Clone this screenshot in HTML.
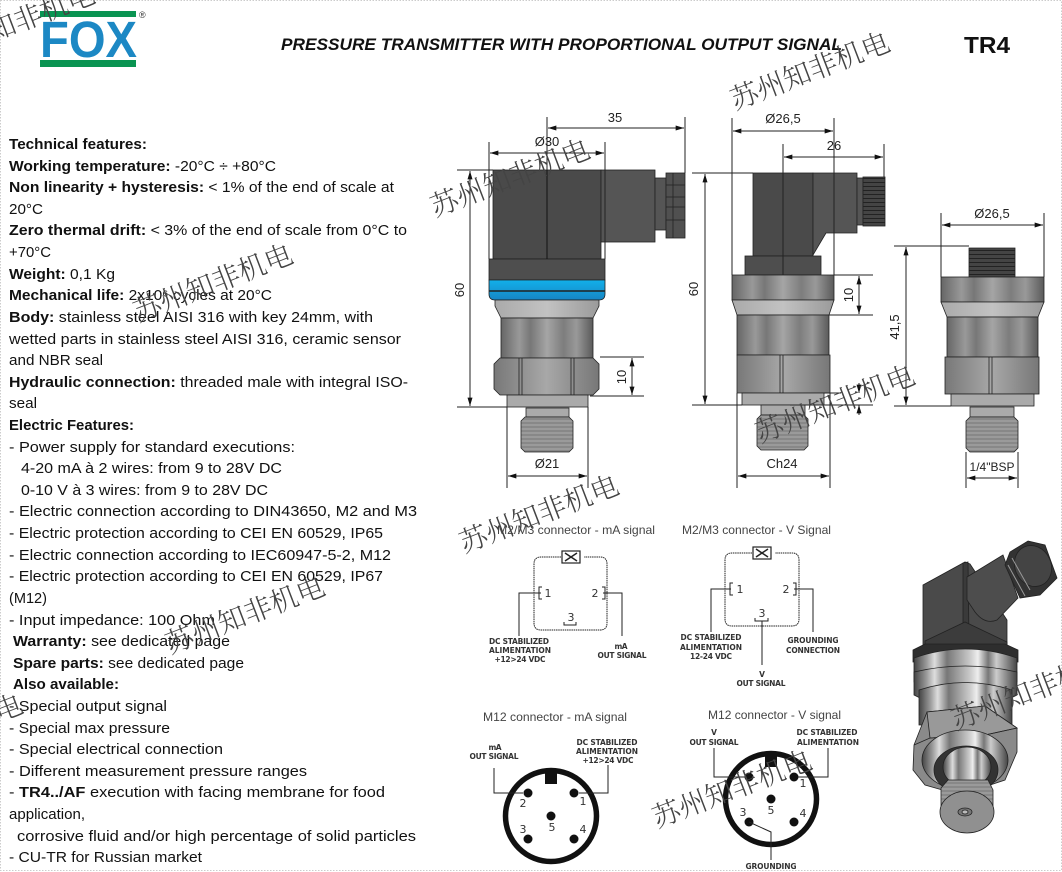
<!DOCTYPE html>
<html><head><meta charset="utf-8"><style>
html,body{margin:0;padding:0;background:#fff;width:1062px;height:872px;overflow:hidden}
svg{display:block}
.t text{font-family:"Liberation Sans",sans-serif;font-size:15px;fill:#111}
.t .b{font-weight:bold}
.d{font-family:"Liberation Sans",sans-serif;font-size:13px;fill:#222}
.h{font-family:"Liberation Sans",sans-serif;font-size:12px;fill:#444}
.l{font-family:"DejaVu Sans",sans-serif;font-size:7.5px;font-weight:bold;fill:#333}
.n{font-family:"DejaVu Sans",sans-serif;font-size:11px;fill:#333}
.w{font-family:"Noto Serif CJK SC","Noto Sans CJK SC",serif;font-size:28px;font-weight:300;fill:#444}
.k{stroke:#222;stroke-width:1;fill:none}
.o{stroke:#222;stroke-width:.8}
</style></head><body>
<svg width="1062" height="872" viewBox="0 0 1062 872" xmlns="http://www.w3.org/2000/svg">
<defs>
<linearGradient id="m"><stop offset="0" stop-color="#666"/><stop offset=".2" stop-color="#999"/><stop offset=".32" stop-color="#777"/><stop offset=".5" stop-color="#a5a5a5"/><stop offset=".68" stop-color="#7d7d7d"/><stop offset=".82" stop-color="#999"/><stop offset="1" stop-color="#5a5a5a"/></linearGradient>
<linearGradient id="c"><stop offset="0" stop-color="#aaa"/><stop offset=".5" stop-color="#c2c2c2"/><stop offset="1" stop-color="#9a9a9a"/></linearGradient>
<linearGradient id="h"><stop offset="0" stop-color="#787878"/><stop offset=".5" stop-color="#a8a8a8"/><stop offset="1" stop-color="#777"/></linearGradient>
<linearGradient id="bl" x1="0" y1="0" x2="0" y2="1"><stop offset="0" stop-color="#12b0ea"/><stop offset="1" stop-color="#1685c4"/></linearGradient>
<linearGradient id="ch"><stop offset="0" stop-color="#444"/><stop offset=".12" stop-color="#999"/><stop offset=".2" stop-color="#ddd"/><stop offset=".32" stop-color="#777"/><stop offset=".55" stop-color="#ccc"/><stop offset=".62" stop-color="#eee"/><stop offset=".72" stop-color="#777"/><stop offset=".8" stop-color="#ccc"/><stop offset="1" stop-color="#444"/></linearGradient>
<pattern id="th" width="4" height="4" patternUnits="userSpaceOnUse"><rect width="4" height="4" fill="#9a9a9a"/><rect y="2.5" width="4" height="1" fill="#777"/></pattern>
<pattern id="th2" width="4" height="4" patternUnits="userSpaceOnUse"><rect width="4" height="4" fill="#444"/><rect y="2" width="4" height="1" fill="#222"/></pattern>
<marker id="a" viewBox="0 0 10 6" refX="10" refY="3" markerWidth="10" markerHeight="5" orient="auto-start-reverse" markerUnits="userSpaceOnUse"><path d="M0 0L10 3L0 6z" fill="#111"/></marker>
</defs>

<rect x=".5" y=".5" width="1061" height="870" fill="none" stroke="#ccc" stroke-dasharray="1.5 1.5"/>

<!-- Logo -->
<rect x="40" y="11" width="96" height="6" fill="#0a9452"/>
<rect x="40" y="60" width="96" height="7" fill="#0a9452"/>
<text x="40" y="57" font-family="Liberation Sans,sans-serif" font-weight="bold" font-size="51" fill="#1c88c4" textLength="97" lengthAdjust="spacingAndGlyphs">FOX</text>
<text x="139" y="18" font-family="Liberation Sans,sans-serif" font-size="9" fill="#333">®</text>

<text x="281" y="50" font-family="Liberation Sans,sans-serif" font-size="17" font-weight="bold" font-style="italic" fill="#111" textLength="561" lengthAdjust="spacingAndGlyphs">PRESSURE TRANSMITTER WITH PROPORTIONAL OUTPUT SIGNAL</text>
<text x="964" y="53" font-family="Liberation Sans,sans-serif" font-size="23" font-weight="bold" fill="#111" textLength="46" lengthAdjust="spacingAndGlyphs">TR4</text>

<!-- Left text -->
<g class="t">
<text x="9" y="149" class="b" textLength="138" lengthAdjust="spacingAndGlyphs">Technical features:</text>
<text x="9" y="171" textLength="267" lengthAdjust="spacingAndGlyphs"><tspan class="b">Working temperature:</tspan> -20°C ÷ +80°C</text>
<text x="9" y="192" textLength="385" lengthAdjust="spacingAndGlyphs"><tspan class="b">Non linearity + hysteresis:</tspan> &lt; 1% of the end of scale at</text>
<text x="9" y="214" textLength="34" lengthAdjust="spacingAndGlyphs">20°C</text>
<text x="9" y="235" textLength="398" lengthAdjust="spacingAndGlyphs"><tspan class="b">Zero thermal drift:</tspan> &lt; 3% of the end of scale from 0°C to</text>
<text x="9" y="257" textLength="42" lengthAdjust="spacingAndGlyphs">+70°C</text>
<text x="9" y="279" textLength="106" lengthAdjust="spacingAndGlyphs"><tspan class="b">Weight:</tspan> 0,1 Kg</text>
<text x="9" y="300" textLength="263" lengthAdjust="spacingAndGlyphs"><tspan class="b">Mechanical life:</tspan> 2x10⁶ cycles at 20°C</text>
<text x="9" y="322" textLength="364" lengthAdjust="spacingAndGlyphs"><tspan class="b">Body:</tspan> stainless steel AISI 316 with key 24mm, with</text>
<text x="9" y="344" textLength="392" lengthAdjust="spacingAndGlyphs">wetted parts in stainless steel AISI 316, ceramic sensor</text>
<text x="9" y="365" textLength="94" lengthAdjust="spacingAndGlyphs">and NBR seal</text>
<text x="9" y="387" textLength="399" lengthAdjust="spacingAndGlyphs"><tspan class="b">Hydraulic connection:</tspan> threaded male with integral ISO-</text>
<text x="9" y="408" textLength="28" lengthAdjust="spacingAndGlyphs">seal</text>
<text x="9" y="430" class="b" textLength="125" lengthAdjust="spacingAndGlyphs">Electric Features:</text>
<text x="9" y="452" textLength="286" lengthAdjust="spacingAndGlyphs">- Power supply for standard executions:</text>
<text x="21" y="473" textLength="261" lengthAdjust="spacingAndGlyphs">4-20 mA à 2 wires: from 9 to 28V DC</text>
<text x="21" y="495" textLength="247" lengthAdjust="spacingAndGlyphs">0-10 V à 3 wires: from 9 to 28V DC</text>
<text x="9" y="516" textLength="408" lengthAdjust="spacingAndGlyphs">- Electric connection according to DIN43650, M2 and M3</text>
<text x="9" y="538" textLength="374" lengthAdjust="spacingAndGlyphs">- Electric protection according to CEI EN 60529, IP65</text>
<text x="9" y="560" textLength="382" lengthAdjust="spacingAndGlyphs">- Electric connection according to IEC60947-5-2, M12</text>
<text x="9" y="581" textLength="374" lengthAdjust="spacingAndGlyphs">- Electric protection according to CEI EN 60529, IP67</text>
<text x="9" y="603" textLength="38" lengthAdjust="spacingAndGlyphs">(M12)</text>
<text x="9" y="625" textLength="206" lengthAdjust="spacingAndGlyphs">- Input impedance: 100 Ohm</text>
<text x="13" y="646" textLength="217" lengthAdjust="spacingAndGlyphs"><tspan class="b">Warranty:</tspan> see dedicated page</text>
<text x="13" y="668" textLength="231" lengthAdjust="spacingAndGlyphs"><tspan class="b">Spare parts:</tspan> see dedicated page</text>
<text x="13" y="689" class="b" textLength="106" lengthAdjust="spacingAndGlyphs">Also available:</text>
<text x="9" y="711" textLength="158" lengthAdjust="spacingAndGlyphs">- Special output signal</text>
<text x="9" y="733" textLength="161" lengthAdjust="spacingAndGlyphs">- Special max pressure</text>
<text x="9" y="754" textLength="214" lengthAdjust="spacingAndGlyphs">- Special electrical connection</text>
<text x="9" y="776" textLength="298" lengthAdjust="spacingAndGlyphs">- Different measurement pressure ranges</text>
<text x="9" y="797" textLength="376" lengthAdjust="spacingAndGlyphs">- <tspan class="b">TR4../AF</tspan> execution with facing membrane for food</text>
<text x="9" y="819" textLength="76" lengthAdjust="spacingAndGlyphs">application,</text>
<text x="17" y="841" textLength="399" lengthAdjust="spacingAndGlyphs">corrosive fluid and/or high percentage of solid particles</text>
<text x="9" y="862" textLength="193" lengthAdjust="spacingAndGlyphs">- CU-TR for Russian market</text>
</g>

<!-- Left sensor -->
<g class="o">
<rect x="493" y="170" width="108" height="89" fill="#4a4a4a"/>
<rect x="601" y="170" width="54" height="72" fill="#555"/>
<rect x="655" y="178" width="11" height="52" fill="#555"/>
<rect x="666" y="173" width="19" height="65" fill="#505050"/>
<path d="M666 185H685M666 197H685M666 207H685M666 220H685M673 173V238" fill="none"/>
<rect x="489" y="259" width="116" height="21" fill="#4e4e4e"/>
<path d="M489 280H605V294Q605 300 599 300H495Q489 300 489 294Z" fill="url(#bl)"/>
<path d="M489 291H605" stroke-width="1.5"/>
<path d="M495 300H599V306L593 318H501L495 306Z" fill="url(#c)"/>
<rect x="501" y="318" width="92" height="40" fill="url(#m)"/>
<path d="M494 364L500 358H593L599 364V389L593 395H500L494 389Z" fill="url(#h)"/>
<path d="M519 358V395M522 358V395M571 358V395M574 358V395" fill="none"/>
<rect x="507" y="395" width="81" height="12" fill="#aaa"/>
<rect x="526" y="408" width="43" height="9" fill="#aaa"/>
<path d="M521 421L525 417H569L573 421V448L569 452H525L521 448Z" fill="url(#th)"/>
</g>
<path d="M547 170V259" stroke="#111" fill="none"/>

<!-- Center sensor -->
<g class="o">
<rect x="753" y="173" width="60" height="83" fill="#4a4a4a"/>
<path d="M813 173H857V233H826L813 255Z" fill="#555"/>
<rect x="857" y="178" width="6" height="47" fill="#555"/>
<rect x="863" y="177" width="22" height="49" fill="url(#th2)"/>
<rect x="745" y="256" width="76" height="19" fill="#4e4e4e"/>
<rect x="732" y="275" width="102" height="25" fill="url(#m)"/>
<path d="M732 300H834L829 315H737Z" fill="url(#c)"/>
<rect x="737" y="315" width="92" height="40" fill="url(#m)"/>
<path d="M737 355H830V393H737Z" fill="url(#h)"/>
<path d="M780 355V393M783 355V393" fill="none"/>
<rect x="742" y="393" width="82" height="12" fill="#aaa"/>
<rect x="761" y="405" width="44" height="10" fill="#aaa"/>
<path d="M757 419L761 415H804L808 419V446L804 450H761L757 446Z" fill="url(#th)"/>
</g>

<!-- Right sensor -->
<g class="o">
<path d="M969 248H1015V277H969Z" fill="url(#th2)"/>
<rect x="941" y="277" width="103" height="25" fill="url(#m)"/>
<path d="M941 302H1044L1038 317H947Z" fill="url(#c)"/>
<rect x="947" y="317" width="91" height="40" fill="url(#m)"/>
<rect x="945" y="357" width="94" height="37" fill="url(#h)"/>
<path d="M989 357V394M992 357V394" fill="none"/>
<rect x="951" y="394" width="83" height="12" fill="#aaa"/>
<rect x="970" y="407" width="44" height="10" fill="#aaa"/>
<path d="M966 421L970 417H1014L1018 421V448L1014 452H970L966 448Z" fill="url(#th)"/>
</g>

<!-- Dimensions -->
<g class="k">
<path d="M547 117V170M685 117V173M489 142V259M605 142V259M457 170H493M457 407H507M600 357H644M590 396H644M507 407V488M588 407V488"/>
<path d="M732 118V275M834 118V275M783 144V275M884 144V177M692 173H753M692 405H742M834 275H873M829 315H873M824 393H841M790 405H873M737 393V488M830 393V488"/>
<path d="M941 213V277M1044 213V277M894 246H969M894 406H951M966 452V488M1018 452V488"/>
<g marker-start="url(#a)" marker-end="url(#a)">
<path d="M548 128H684"/><path d="M490 153H604"/><path d="M470 171V406"/><path d="M632 358V395"/><path d="M508 476H587"/>
<path d="M733 131H833"/><path d="M784 157H883"/><path d="M705 174V404"/><path d="M859 276V314"/><path d="M738 476H829"/>
<path d="M942 225H1043"/><path d="M906 247V405"/><path d="M967 478H1017"/>
</g>
<path d="M859 383V393" marker-end="url(#a)"/><path d="M859 415V405" marker-end="url(#a)"/>
</g>
<g class="d" text-anchor="middle">
<text x="615" y="122">35</text>
<text x="547" y="146">Ø30</text>
<text x="547" y="468">Ø21</text>
<text transform="translate(464 290) rotate(-90)">60</text>
<text transform="translate(626 377) rotate(-90)">10</text>
<text x="783" y="123">Ø26,5</text>
<text x="834" y="150">26</text>
<text x="782" y="468">Ch24</text>
<text transform="translate(698 289) rotate(-90)">60</text>
<text transform="translate(853 295) rotate(-90)">10</text>
<text x="992" y="218">Ø26,5</text>
<text x="992" y="471" font-size="12">1/4"BSP</text>
<text transform="translate(899 327) rotate(-90)">41,5</text>
</g>

<!-- Connector headings -->
<text class="h" x="497" y="534" textLength="158" lengthAdjust="spacingAndGlyphs">M2/M3 connector - mA signal</text>
<text class="h" x="682" y="534" textLength="149" lengthAdjust="spacingAndGlyphs">M2/M3 connector - V Signal</text>
<text class="h" x="483" y="721" textLength="144" lengthAdjust="spacingAndGlyphs">M12 connector - mA signal</text>
<text class="h" x="708" y="719" textLength="133" lengthAdjust="spacingAndGlyphs">M12 connector - V signal</text>

<!-- mA box -->
<g fill="none" stroke="#222">
<path d="M561 557H541Q534 557 534 564V623Q534 630 541 630H600Q607 630 607 623V564Q607 557 600 557H584" stroke-dasharray="1.5 .7"/>
<rect x="562" y="551" width="18" height="12" stroke-width="1.2"/><path d="M565 553L577 561M577 553L565 561" stroke-width="1.5"/>
<path d="M519 636V593H541M622 636V593H603"/>
<path d="M542 587H539V599H542M602 587H605V599H602M564 622V625H576V622"/>
</g>
<g class="n" text-anchor="middle"><text x="548" y="597">1</text><text x="595" y="597">2</text><text x="571" y="621">3</text></g>
<!-- V box -->
<g fill="none" stroke="#222">
<path d="M752 553H732Q725 553 725 560V619Q725 626 732 626H792Q799 626 799 619V560Q799 553 792 553H775" stroke-dasharray="1.5 .7"/>
<rect x="753" y="547" width="18" height="12" stroke-width="1.2"/><path d="M756 549L768 557M768 549L756 557" stroke-width="1.5"/>
<path d="M711 632V589H731M813 632V589H794M762 621V665"/>
<path d="M733 583H730V595H733M793 583H796V595H793M755 618V621H768V618"/>
</g>
<g class="n" text-anchor="middle"><text x="740" y="593">1</text><text x="786" y="593">2</text><text x="762" y="617">3</text></g>

<!-- M12 mA -->
<circle cx="551" cy="816" r="45.5" fill="none" stroke="#111" stroke-width="5.5"/>
<rect x="545" y="772" width="12" height="12" fill="#111"/>
<g fill="#111"><circle cx="528" cy="793" r="4.5"/><circle cx="574" cy="793" r="4.5"/><circle cx="551" cy="816" r="4.5"/><circle cx="528" cy="839" r="4.5"/><circle cx="574" cy="839" r="4.5"/></g>
<path d="M494 768V793H523M608 765V793H579" fill="none" stroke="#222"/>
<g class="n" text-anchor="middle"><text x="523" y="807">2</text><text x="583" y="805">1</text><text x="523" y="833">3</text><text x="552" y="831">5</text><text x="583" y="833">4</text></g>
<!-- M12 V -->
<circle cx="771" cy="799" r="45.5" fill="none" stroke="#111" stroke-width="5.5"/>
<rect x="765" y="755" width="12" height="12" fill="#111"/>
<g fill="#111"><circle cx="749" cy="777" r="4.5"/><circle cx="794" cy="777" r="4.5"/><circle cx="771" cy="799" r="4.5"/><circle cx="749" cy="822" r="4.5"/><circle cx="794" cy="822" r="4.5"/></g>
<path d="M714 748V777H745M828 748V777H798M749 822L771 832V860" fill="none" stroke="#222"/>
<g class="n" text-anchor="middle"><text x="803" y="787">1</text><text x="771" y="814">5</text><text x="743" y="816">3</text><text x="803" y="817">4</text></g>

<!-- Connector labels -->
<g class="l" text-anchor="middle">
<text x="519" y="644" textLength="60">DC STABILIZED</text><text x="520" y="653" textLength="62">ALIMENTATION</text><text x="520" y="662" textLength="51">+12&gt;24 VDC</text>
<text x="621" y="649" textLength="13">mA</text><text x="622" y="658" textLength="49">OUT SIGNAL</text>
<text x="711" y="640" textLength="61">DC STABILIZED</text><text x="711" y="650" textLength="62">ALIMENTATION</text><text x="711" y="659" textLength="42">12-24 VDC</text>
<text x="813" y="643" textLength="51">GROUNDING</text><text x="813" y="653" textLength="54">CONNECTION</text>
<text x="762" y="677">V</text><text x="761" y="686" textLength="49">OUT SIGNAL</text>
<text x="495" y="750" textLength="13">mA</text><text x="494" y="759" textLength="49">OUT SIGNAL</text>
<text x="607" y="745" textLength="61">DC STABILIZED</text><text x="607" y="754" textLength="62">ALIMENTATION</text><text x="608" y="763" textLength="51">+12&gt;24 VDC</text>
<text x="714" y="735">V</text><text x="714" y="745" textLength="49">OUT SIGNAL</text>
<text x="827" y="735" textLength="61">DC STABILIZED</text><text x="828" y="745" textLength="62">ALIMENTATION</text>
<text x="771" y="869" textLength="51">GROUNDING</text>
</g>

<!-- 3D sensor -->
<g class="o">
<path d="M923 585L965 562L970 564L1007 620V645H923Z" fill="#4a4a4a"/>
<path d="M963 563L968 562L969 638H963Z" fill="#3a3a3a"/>
<path d="M925 641L965 622L1007 642V648H925Z" fill="#3c3c3c"/>
<path d="M967 577L1003 555L1018 598L997 620Q985 625 975 612L967 600Z" fill="#4d4d4d"/>
<path d="M1028 541L1045 545L1057 578L1040 595L1020 598L1005 565L1010 552Z" fill="#333"/>
<ellipse cx="1033" cy="566" rx="18" ry="21" transform="rotate(-25 1033 566)" fill="#444"/>
<path d="M1008 565L1025 596M1012 558L1030 590" stroke="#999" stroke-width="1" fill="none"/>
<path d="M913 650L925 644H1005L1018 650V662H913Z" fill="#2e2e2e"/>
<path d="M914 658Q965 640 1017 658V682Q965 695 914 682Z" fill="url(#ch)"/>
<path d="M914 672Q965 660 1017 672V695L1007 700H924L914 695Z" fill="url(#ch)"/>
<path d="M919 690Q965 675 1012 690V725H919Z" fill="url(#ch)"/>
<path d="M914 745L927 712L985 706L1017 728V752L1005 780L960 795L925 785L913 770Z" fill="#8a8a8a"/>
<path d="M927 712L930 738L985 735L1017 728L985 706Z" fill="#999"/>
<path d="M914 745L930 738L985 735L1017 728" fill="none"/>
<ellipse cx="965" cy="760" rx="43" ry="30" fill="url(#ch)"/>
<ellipse cx="966" cy="770" rx="32" ry="24" fill="#333"/>
<ellipse cx="967" cy="767" rx="24" ry="20" fill="url(#ch)"/>
<path d="M941 788L948 780H988L993 790V815H941Z" fill="url(#th)"/>
<ellipse cx="967" cy="812" rx="27" ry="21" fill="#909090"/>
<ellipse cx="965" cy="812" rx="7" ry="4" fill="#777"/>
<ellipse cx="965" cy="812" rx="3" ry="2" fill="#bbb"/>
</g>

<!-- Watermarks -->
<g class="w">
<text transform="translate(-60 62) rotate(-21)">苏州知非机电</text>
<text transform="translate(735 110) rotate(-21)">苏州知非机电</text>
<text transform="translate(435 217) rotate(-21)">苏州知非机电</text>
<text transform="translate(138 322) rotate(-21)">苏州知非机电</text>
<text transform="translate(760 443) rotate(-21)">苏州知非机电</text>
<text transform="translate(464 553) rotate(-21)">苏州知非机电</text>
<text transform="translate(170 654) rotate(-21)">苏州知非机电</text>
<text transform="translate(956 730) rotate(-21)">苏州知非机</text>
<text transform="translate(-132 772) rotate(-21)">苏州知非机电</text>
<text transform="translate(657 828) rotate(-21)">苏州知非机电</text>
</g>
</svg>
</body></html>
